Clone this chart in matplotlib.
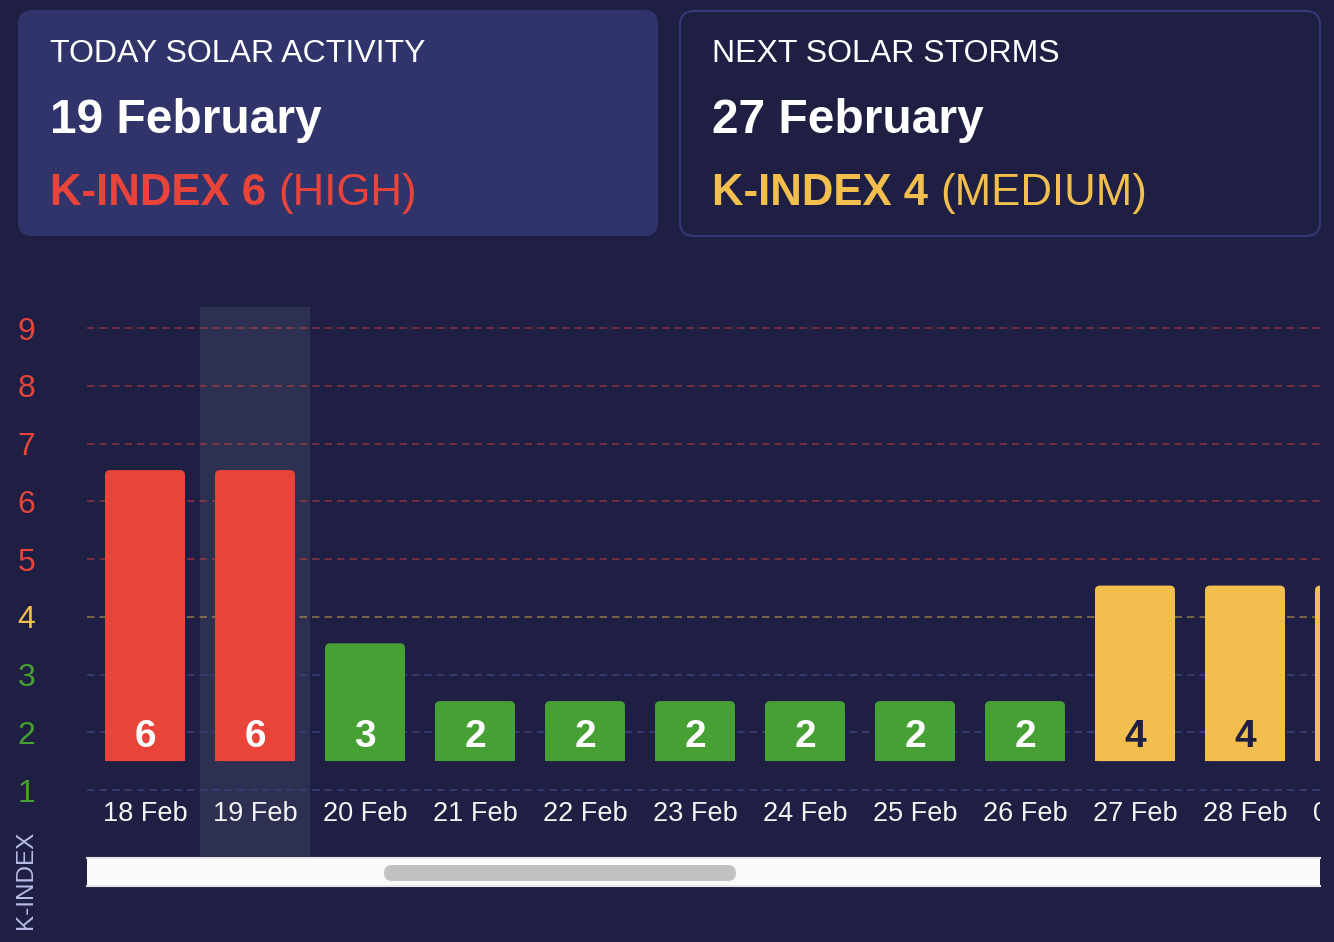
import matplotlib
matplotlib.use('Agg')
import matplotlib.pyplot as plt
from matplotlib.patches import FancyBboxPatch, Rectangle

plt.rcParams['font.family'] = ['Liberation Sans', 'DejaVu Sans']

# data
dates = ['18 Feb', '19 Feb', '20 Feb', '21 Feb', '22 Feb', '23 Feb',
         '24 Feb', '25 Feb', '26 Feb', '27 Feb', '28 Feb', '01 Mar']
kp_index = [6, 6, 3, 2, 2, 2, 2, 2, 2, 4, 4, 4]
levels = [1, 2, 3, 4, 5, 6, 7, 8, 9]
today = 1  # index of 19 Feb

# colours
BG = '#1e1f42'
CARD = '#30346b'
HILITE = '#2e3052'
RED = '#e8443a'
YELLOW = '#f2bf4e'
GREEN = '#46a033'
GRID_BLUE = '#3b3e7a'


def level_color(v):
    if v >= 5:
        return RED
    if v == 4:
        return YELLOW
    return GREEN


W, H = 1334, 942
fig = plt.figure(figsize=(W / 100, H / 100), dpi=100, facecolor=BG)

# background layer in pixel coordinates
bg = fig.add_axes([0, 0, 1, 1], zorder=0)
bg.set_xlim(0, W)
bg.set_ylim(H, 0)
bg.set_facecolor(BG)
bg.axis('off')

# cards
bg.add_patch(FancyBboxPatch((18, 10), 640, 226, boxstyle='round,pad=0,rounding_size=14',
                            fc=CARD, ec='none'))
bg.add_patch(FancyBboxPatch((680, 11), 640, 225, boxstyle='round,pad=0,rounding_size=14',
                            fc='none', ec='#34387a', lw=1.5))

renderer = fig.canvas.get_renderer()


def status_line(x, y, bold, rest, color, size=31.5):
    t = bg.text(x, y, bold, fontsize=size, fontweight='bold', color=color, va='baseline')
    bb = t.get_window_extent(renderer=renderer)
    space = 0.278 * size * 100 / 72
    bg.text(bb.x1 + space, y, rest, fontsize=size, color=color, va='baseline')


bg.text(50, 62, 'TODAY SOLAR ACTIVITY', fontsize=23, color='white', va='baseline')
bg.text(50, 133, '19 February', fontsize=34.5, fontweight='bold', color='white', va='baseline')
status_line(50, 205, 'K-INDEX 6', '(HIGH)', RED)

bg.text(712, 62, 'NEXT SOLAR STORMS', fontsize=23, color='white', va='baseline')
bg.text(712, 133, '27 February', fontsize=34.5, fontweight='bold', color='white', va='baseline')
status_line(712, 205, 'K-INDEX 4', '(MEDIUM)', YELLOW)

# y axis title
bg.text(26, 880, 'K-INDEX', rotation=90, ha='center', va='center', fontsize=17.5, color='#b9bbe9')

# scrollbar
bg.add_patch(Rectangle((87, 857), 1233, 30, fc='#fafafa', ec='none'))
bg.plot([87, 1320], [858, 858], color='#e6e6e6', lw=1.5)
bg.plot([87, 1320], [886, 886], color='#e6e6e6', lw=1.5)
bg.add_patch(FancyBboxPatch((384, 865), 352, 16, boxstyle='round,pad=0,rounding_size=8',
                            fc='#c1c1c1', ec='none'))

# chart
ax = fig.add_axes([87 / W, (H - 857) / H, (1320 - 87) / W, (857 - 307) / H], zorder=1)
ax.set_facecolor('none')
for s in ax.spines.values():
    s.set_visible(False)
ax.set_xlim(-0.527, 10.682)
ax.set_ylim(-0.16, 9.364)

ax.axvspan(today - 0.5, today + 0.5, color=HILITE, zorder=0, lw=0)

for lv in levels:
    if lv >= 5:
        c, a = RED, 0.5
    elif lv == 4:
        c, a = YELLOW, 0.5
    else:
        c, a = GRID_BLUE, 1.0
    ax.axhline(lv, color=c, alpha=a, lw=1.2, ls=(0, (4.5, 3)), zorder=1)

x = list(range(len(kp_index)))
colors = [level_color(v) for v in kp_index]
base = 1.5
heights = [v + 0.54 - base for v in kp_index]
width = 0.727
bars = ax.bar(x, heights, bottom=base, width=width, color=colors, zorder=2, lw=0)

# rounded top corners
r_x = 5 / 110
r_y = 5 / 57.75
for rect, c in zip(bars, colors):
    h = rect.get_height()
    ax.add_patch(FancyBboxPatch((rect.get_x(), base), width, h,
                                boxstyle=f'round,pad=0,rounding_size={r_x}',
                                mutation_aspect=r_y / r_x, fc=c, ec='none', zorder=2))
    rect.set_height(h - 2 * r_y)

for i, v in enumerate(kp_index):
    tc = BG if v == 4 else 'white'
    ax.text(i, 1.92, str(v), ha='center', va='center', fontsize=28, fontweight='bold',
            color=tc, clip_on=True, zorder=3)
    ax.text(i, 0.59, dates[i], ha='center', va='center', fontsize=19.5, color='#f4f4f4',
            clip_on=True, zorder=3)

ax.set_xticks([])
ax.set_yticks(levels)
ax.set_yticklabels([str(lv) for lv in levels])
ax.tick_params(axis='y', length=0, pad=37, labelsize=23)
for lbl, lv in zip(ax.get_yticklabels(), levels):
    lbl.set_color(level_color(lv))
    lbl.set_y(lbl.get_position()[1])

fig.savefig('out.png', dpi=100, facecolor=BG)
